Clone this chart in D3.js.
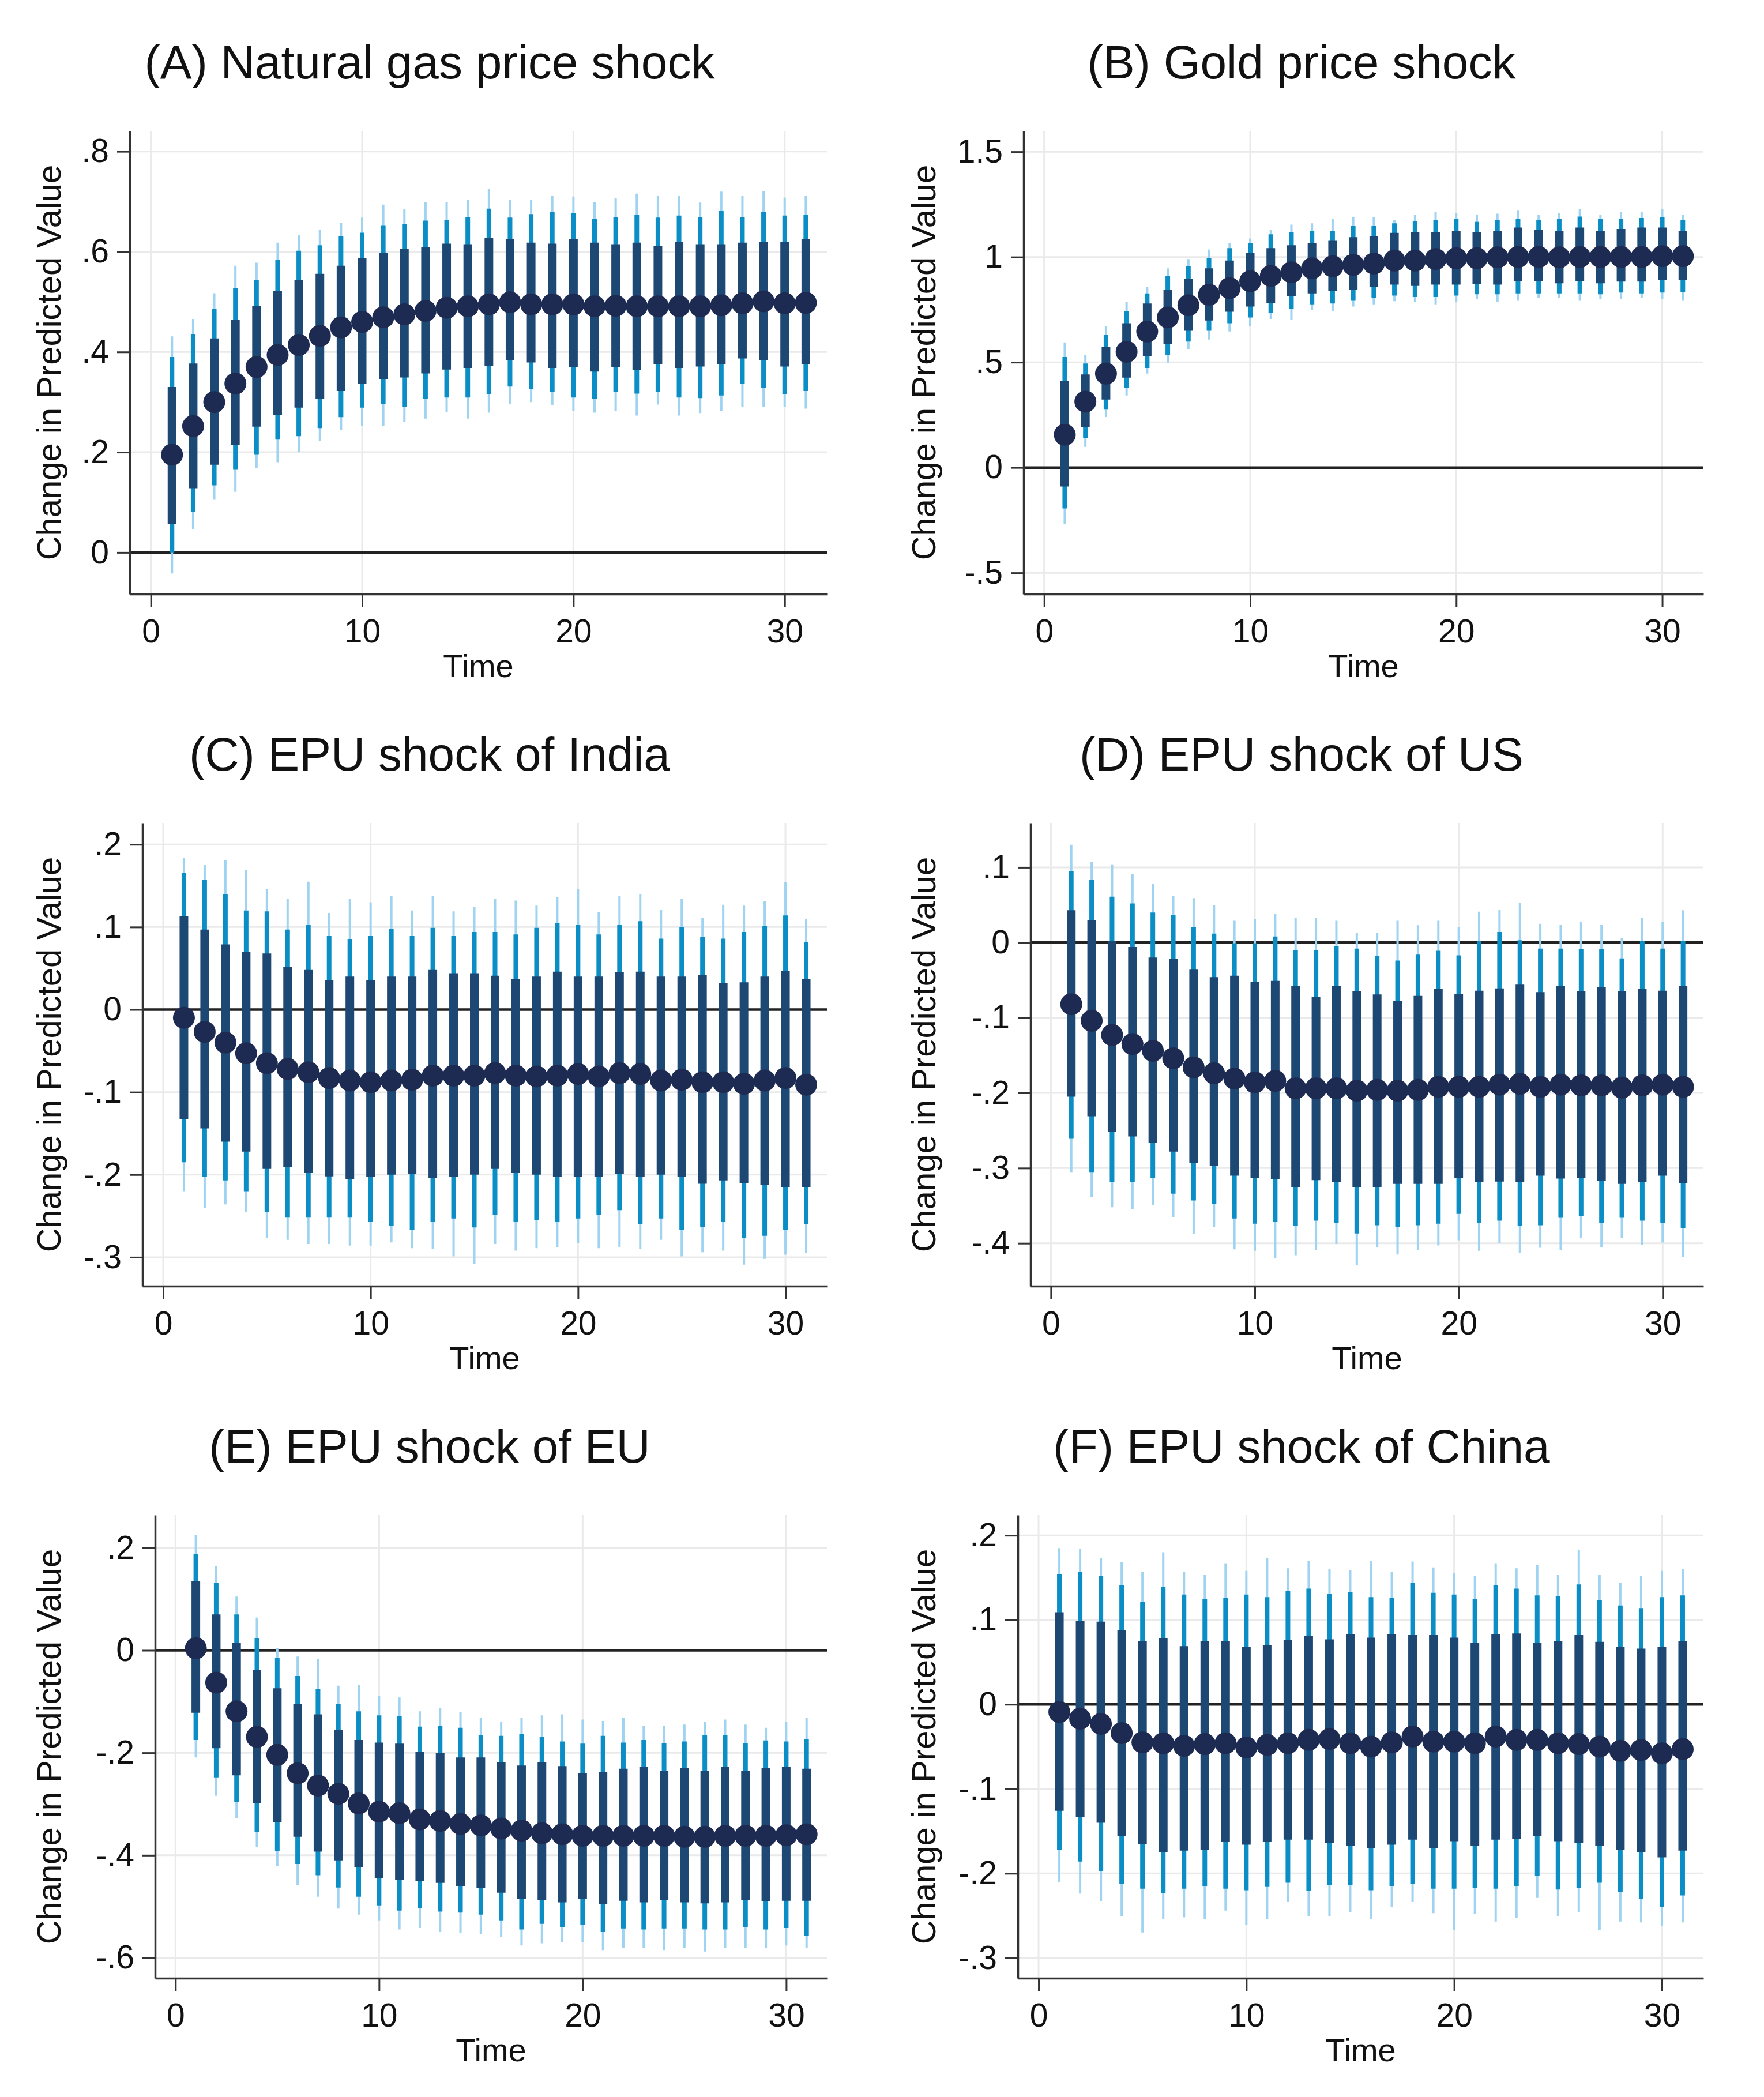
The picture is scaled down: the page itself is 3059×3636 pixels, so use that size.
<!DOCTYPE html>
<html>
<head>
<meta charset="utf-8">
<script src="https://cdn.jsdelivr.net/npm/d3@7"></script>
<style>
	body { margin:0; background:#fff; }
	text { font-family:"Liberation Sans", Arial, Helvetica, sans-serif; fill:#111; }
</style>
</head>
<body>
<svg id="chart" width="3059" height="3636"></svg>
<script>

// impulse periods
// ---------------
var periods = [1,2,3,4,5,6,7,8,9,10,11,12,13,14,15,16,17,18,19,20,21,22,23,24,25,26,27,28,29,30,31];
var xTicks = [0,10,20,30];

// (A) natural gas price shock
// ---------------------------
var gasEst = [.195,.252,.30,.337,.37,.394,.414,.432,.449,.46,.469,.475,.482,.488,.491,.495,.499,.495,.495,.495,.491,.492,.491,.491,.491,.491,.493,.497,.501,.497,.498];
var gasInner = [[.057,.33],[.127,.377],[.175,.427],[.215,.464],[.251,.492],[.274,.521],[.289,.543],[.307,.556],[.322,.572],[.337,.587],[.346,.598],[.349,.605],[.357,.609],[.365,.616],[.368,.615],[.372,.628],[.384,.625],[.379,.618],[.368,.616],[.37,.625],[.361,.618],[.37,.615],[.364,.618],[.375,.612],[.368,.62],[.371,.615],[.375,.615],[.387,.618],[.384,.62],[.371,.62],[.375,.625]];
var gasMiddle = [[0,.39],[.081,.436],[.134,.486],[.165,.528],[.195,.543],[.225,.584],[.232,.602],[.248,.613],[.27,.631],[.289,.638],[.296,.653],[.291,.655],[.307,.662],[.309,.663],[.309,.669],[.315,.686],[.331,.668],[.326,.675],[.32,.679],[.309,.677],[.307,.666],[.32,.669],[.317,.673],[.32,.668],[.309,.672],[.308,.669],[.313,.682],[.337,.669],[.329,.679],[.315,.672],[.322,.673]];
var gasOuter = [[-.042,.431],[.046,.466],[.105,.517],[.121,.572],[.168,.578],[.18,.618],[.2,.633],[.222,.644],[.245,.657],[.252,.668],[.252,.694],[.26,.685],[.267,.699],[.28,.699],[.267,.704],[.279,.726],[.296,.703],[.3,.704],[.294,.712],[.282,.71],[.279,.699],[.283,.707],[.273,.716],[.295,.712],[.273,.712],[.278,.698],[.283,.72],[.291,.711],[.291,.721],[.291,.708],[.287,.711]];

// (B) gold price shock
// --------------------
var goldEst = [.156,.313,.446,.55,.646,.713,.771,.821,.852,.885,.91,.927,.946,.956,.963,.969,.983,.983,.99,.994,.994,.998,1.0,1.0,.998,1.0,1.0,1.0,1.0,1.004,1.004];
var goldInner = [[-.09,.41],[.192,.442],[.323,.573],[.427,.685],[.529,.779],[.588,.844],[.65,.896],[.698,.946],[.74,.983],[.765,1.021],[.781,1.042],[.813,1.056],[.827,1.067],[.838,1.077],[.844,1.094],[.858,1.098],[.869,1.115],[.863,1.119],[.869,1.119],[.869,1.125],[.873,1.119],[.869,1.123],[.885,1.14],[.885,1.129],[.875,1.123],[.885,1.14],[.875,1.125],[.883,1.133],[.883,1.14],[.89,1.14],[.89,1.125]];
var goldMiddle = [[-.194,.525],[.14,.494],[.275,.629],[.379,.744],[.473,.827],[.535,.91],[.598,.956],[.65,.994],[.685,1.042],[.713,1.067],[.733,1.108],[.754,1.119],[.775,1.123],[.779,1.125],[.792,1.15],[.806,1.15],[.817,1.16],[.81,1.171],[.81,1.175],[.817,1.181],[.823,1.167],[.823,1.177],[.827,1.181],[.827,1.177],[.827,1.181],[.827,1.192],[.823,1.181],[.831,1.181],[.827,1.185],[.831,1.188],[.833,1.175]];
var goldOuter = [[-.267,.594],[.098,.535],[.24,.671],[.342,.785],[.446,.858],[.498,.946],[.563,.99],[.608,1.035],[.646,1.067],[.671,1.088],[.706,1.129],[.702,1.154],[.75,1.16],[.744,1.181],[.765,1.19],[.775,1.188],[.79,1.175],[.785,1.202],[.775,1.213],[.785,1.208],[.8,1.202],[.785,1.206],[.792,1.223],[.806,1.202],[.806,1.208],[.792,1.229],[.802,1.202],[.802,1.213],[.806,1.213],[.8,1.229],[.792,1.202]];

// (C) EPU shock of India
// ----------------------
var indiaEst = [-.01,-.027,-.04,-.053,-.065,-.072,-.076,-.083,-.086,-.088,-.086,-.085,-.08,-.08,-.08,-.077,-.08,-.081,-.08,-.078,-.081,-.077,-.078,-.086,-.085,-.088,-.088,-.09,-.086,-.083,-.091];
var indiaInner = [[-.133,.113],[-.144,.097],[-.16,.079],[-.172,.07],[-.193,.068],[-.191,.052],[-.198,.048],[-.202,.036],[-.205,.04],[-.203,.036],[-.2,.04],[-.199,.04],[-.204,.048],[-.203,.044],[-.2,.044],[-.193,.041],[-.198,.037],[-.2,.04],[-.203,.046],[-.203,.04],[-.203,.04],[-.199,.045],[-.203,.046],[-.2,.04],[-.203,.04],[-.211,.042],[-.207,.032],[-.21,.033],[-.212,.04],[-.215,.047],[-.215,.037]];
var indiaMiddle = [[-.185,.166],[-.203,.157],[-.207,.14],[-.22,.12],[-.245,.119],[-.252,.097],[-.252,.103],[-.252,.089],[-.252,.085],[-.257,.089],[-.262,.098],[-.267,.089],[-.257,.099],[-.253,.089],[-.264,.094],[-.249,.094],[-.257,.091],[-.255,.099],[-.257,.105],[-.253,.103],[-.249,.091],[-.243,.103],[-.26,.107],[-.253,.086],[-.267,.1],[-.263,.088],[-.257,.086],[-.277,.094],[-.274,.101],[-.267,.114],[-.26,.082]];
var indiaOuter = [[-.22,.184],[-.24,.175],[-.236,.181],[-.245,.169],[-.277,.146],[-.279,.134],[-.284,.155],[-.284,.117],[-.286,.134],[-.286,.13],[-.282,.138],[-.289,.12],[-.29,.138],[-.299,.119],[-.308,.124],[-.284,.134],[-.292,.132],[-.289,.126],[-.288,.136],[-.283,.146],[-.289,.118],[-.288,.138],[-.29,.14],[-.279,.121],[-.299,.134],[-.294,.111],[-.292,.127],[-.309,.126],[-.302,.131],[-.297,.154],[-.295,.11]];

// (D) EPU shock of US
// -------------------
var usEst = [-.082,-.104,-.123,-.135,-.144,-.154,-.166,-.174,-.181,-.186,-.184,-.194,-.194,-.194,-.197,-.196,-.197,-.196,-.192,-.192,-.192,-.189,-.188,-.192,-.189,-.19,-.19,-.193,-.19,-.189,-.192];
var usInner = [[-.205,.043],[-.231,.03],[-.252,.002],[-.258,-.006],[-.266,-.02],[-.278,-.022],[-.293,-.036],[-.297,-.046],[-.31,-.044],[-.313,-.052],[-.315,-.051],[-.325,-.058],[-.316,-.072],[-.319,-.058],[-.325,-.065],[-.325,-.069],[-.321,-.078],[-.321,-.071],[-.321,-.062],[-.313,-.068],[-.319,-.064],[-.318,-.061],[-.319,-.056],[-.31,-.066],[-.314,-.058],[-.313,-.065],[-.317,-.059],[-.321,-.065],[-.319,-.062],[-.31,-.064],[-.32,-.058]];
var usMiddle = [[-.261,.095],[-.306,.083],[-.319,.061],[-.319,.052],[-.313,.04],[-.334,.037],[-.343,.021],[-.348,.012],[-.367,-.001],[-.374,-.001],[-.371,.008],[-.377,-.01],[-.37,-.01],[-.373,-.005],[-.387,-.008],[-.376,-.018],[-.378,-.024],[-.376,-.016],[-.374,-.011],[-.361,-.017],[-.373,.002],[-.37,.014],[-.377,.003],[-.376,-.008],[-.366,-.008],[-.364,-.009],[-.373,-.009],[-.366,-.021],[-.37,.002],[-.373,-.008],[-.38,.002]];
var usOuter = [[-.306,.13],[-.338,.107],[-.352,.104],[-.355,.091],[-.349,.078],[-.365,.062],[-.388,.059],[-.378,.05],[-.408,.029],[-.41,.031],[-.42,.038],[-.416,.033],[-.409,.033],[-.401,.029],[-.429,.013],[-.405,.013],[-.415,.029],[-.409,.023],[-.403,.029],[-.396,.021],[-.41,.041],[-.4,.044],[-.413,.053],[-.406,.025],[-.409,.024],[-.393,.027],[-.405,.024],[-.393,.006],[-.402,.033],[-.399,.027],[-.418,.043]];

// (E) EPU shock of EU
// -------------------
var euEst = [.004,-.063,-.119,-.169,-.204,-.24,-.264,-.28,-.299,-.315,-.318,-.33,-.333,-.339,-.342,-.348,-.352,-.357,-.359,-.362,-.362,-.362,-.362,-.362,-.364,-.364,-.362,-.362,-.362,-.361,-.359];
var euInner = [[-.122,.135],[-.191,.07],[-.244,.015],[-.299,-.038],[-.335,-.074],[-.364,-.105],[-.393,-.125],[-.41,-.156],[-.423,-.175],[-.445,-.18],[-.448,-.182],[-.45,-.198],[-.454,-.2],[-.461,-.209],[-.464,-.209],[-.473,-.218],[-.485,-.225],[-.488,-.219],[-.492,-.226],[-.485,-.24],[-.496,-.237],[-.489,-.231],[-.492,-.227],[-.488,-.235],[-.492,-.229],[-.494,-.235],[-.492,-.227],[-.488,-.235],[-.49,-.229],[-.489,-.227],[-.489,-.231]];
var euMiddle = [[-.175,.188],[-.249,.132],[-.296,.07],[-.355,.023],[-.392,-.014],[-.417,-.05],[-.439,-.076],[-.463,-.104],[-.481,-.119],[-.498,-.127],[-.508,-.129],[-.503,-.149],[-.51,-.147],[-.512,-.151],[-.516,-.165],[-.527,-.167],[-.545,-.163],[-.534,-.169],[-.541,-.178],[-.536,-.182],[-.55,-.167],[-.543,-.18],[-.545,-.175],[-.543,-.181],[-.543,-.178],[-.545,-.166],[-.545,-.166],[-.541,-.181],[-.545,-.176],[-.542,-.178],[-.557,-.173]];
var euOuter = [[-.209,.225],[-.284,.165],[-.328,.105],[-.384,.064],[-.421,.005],[-.458,-.012],[-.481,-.017],[-.504,-.069],[-.516,-.067],[-.527,-.089],[-.545,-.092],[-.542,-.119],[-.55,-.112],[-.551,-.12],[-.554,-.132],[-.56,-.14],[-.576,-.132],[-.572,-.127],[-.569,-.125],[-.57,-.135],[-.585,-.138],[-.581,-.132],[-.581,-.147],[-.585,-.147],[-.581,-.145],[-.588,-.14],[-.581,-.135],[-.581,-.145],[-.581,-.151],[-.576,-.14],[-.581,-.132]];

// (F) EPU shock of China
// ----------------------
var chinaEst = [-.009,-.017,-.023,-.034,-.045,-.046,-.049,-.047,-.046,-.051,-.048,-.046,-.042,-.041,-.046,-.05,-.045,-.038,-.044,-.044,-.046,-.038,-.042,-.042,-.046,-.047,-.05,-.055,-.054,-.058,-.053];
var chinaInner = [[-.126,.109],[-.133,.099],[-.14,.098],[-.156,.088],[-.165,.075],[-.175,.078],[-.173,.069],[-.172,.075],[-.163,.075],[-.166,.068],[-.163,.07],[-.16,.076],[-.16,.081],[-.164,.077],[-.167,.083],[-.17,.079],[-.166,.083],[-.16,.082],[-.17,.082],[-.162,.079],[-.167,.073],[-.16,.083],[-.159,.084],[-.156,.073],[-.162,.075],[-.164,.082],[-.167,.074],[-.172,.068],[-.175,.066],[-.181,.068],[-.173,.075]];
var chinaMiddle = [[-.172,.154],[-.186,.157],[-.197,.152],[-.212,.141],[-.218,.121],[-.223,.139],[-.218,.13],[-.215,.125],[-.218,.126],[-.22,.13],[-.216,.127],[-.211,.134],[-.221,.137],[-.214,.131],[-.214,.133],[-.22,.127],[-.215,.126],[-.212,.144],[-.218,.132],[-.218,.13],[-.217,.125],[-.218,.141],[-.215,.137],[-.203,.129],[-.219,.128],[-.217,.142],[-.211,.123],[-.222,.117],[-.23,.114],[-.24,.127],[-.226,.129]];
var chinaOuter = [[-.21,.185],[-.224,.184],[-.233,.173],[-.251,.168],[-.27,.157],[-.254,.18],[-.252,.157],[-.254,.153],[-.244,.167],[-.261,.158],[-.254,.173],[-.234,.161],[-.251,.17],[-.251,.16],[-.246,.159],[-.254,.17],[-.24,.157],[-.234,.169],[-.247,.162],[-.267,.155],[-.248,.152],[-.257,.167],[-.253,.161],[-.229,.165],[-.251,.153],[-.246,.183],[-.267,.153],[-.257,.144],[-.258,.152],[-.262,.158],[-.258,.16]];

// panel table (layout + series)
// -----------------------------
var panels = [
	{title:"(A) Natural gas price shock", row:0, col:0, axisX:225,  yDomain:[-0.083,0.841], yTicks:[0,.2,.4,.6,.8],        est:gasEst,   inner:gasInner,   middle:gasMiddle,   outer:gasOuter},
	{title:"(B) Gold price shock",        row:0, col:1, axisX:1775, yDomain:[-0.601,1.599], yTicks:[-.5,0,.5,1,1.5],      est:goldEst,  inner:goldInner,  middle:goldMiddle,  outer:goldOuter},
	{title:"(C) EPU shock of India",      row:1, col:0, axisX:247,  yDomain:[-0.335,0.226], yTicks:[-.3,-.2,-.1,0,.1,.2], est:indiaEst, inner:indiaInner, middle:indiaMiddle, outer:indiaOuter},
	{title:"(D) EPU shock of US",         row:1, col:1, axisX:1787, yDomain:[-0.457,0.159], yTicks:[-.4,-.3,-.2,-.1,0,.1],est:usEst,    inner:usInner,    middle:usMiddle,    outer:usOuter},
	{title:"(E) EPU shock of EU",         row:2, col:0, axisX:269,  yDomain:[-0.64,0.264],  yTicks:[-.6,-.4,-.2,0,.2],    est:euEst,    inner:euInner,    middle:euMiddle,    outer:euOuter},
	{title:"(F) EPU shock of China",      row:2, col:1, axisX:1765, yDomain:[-0.324,0.224], yTicks:[-.3,-.2,-.1,0,.1,.2], est:chinaEst, inner:chinaInner, middle:chinaMiddle, outer:chinaOuter}
];

var colRight = [1434, 2954];
var colTitleX = [745, 2257];
var colLabelX = [105, 1622];
var rowH = 1200, plotTop = 227, plotBottom = 1030;

// stata style numbers: .5 / -.5
var fmt = function(v){
	return String(+v.toFixed(2)).replace(/^(-?)0\./,"$1.");
};

var svg = d3.select("#chart");

panels.forEach(function(p){

	var top = p.row*rowH;
	var right = colRight[p.col];
	var x = d3.scaleLinear().domain([-1,32]).range([p.axisX, right]);
	var y = d3.scaleLinear().domain(p.yDomain).range([top+plotBottom, top+plotTop]);
	var g = svg.append("g");

	// title
	g.append("text")
		.attr("x", colTitleX[p.col])
		.attr("y", top+136)
		.attr("text-anchor","middle")
		.style("font-size","82px")
		.text(p.title);

	// grid
	g.selectAll(".gy").data(p.yTicks).enter().append("line")
		.attr("x1", p.axisX).attr("x2", right)
		.attr("y1", function(d){ return y(d); }).attr("y2", function(d){ return y(d); })
		.attr("stroke","#eaeaea").attr("stroke-width",3);
	g.selectAll(".gx").data(xTicks).enter().append("line")
		.attr("x1", function(d){ return x(d); }).attr("x2", function(d){ return x(d); })
		.attr("y1", top+plotTop).attr("y2", top+plotBottom)
		.attr("stroke","#eaeaea").attr("stroke-width",3);

	// zero line
	g.append("line")
		.attr("x1", p.axisX).attr("x2", right)
		.attr("y1", y(0)).attr("y2", y(0))
		.attr("stroke","#222").attr("stroke-width",4.5);

	// axes
	var ax = g.append("g").attr("transform","translate("+p.axisX+",0)")
		.call(d3.axisLeft(y).tickValues(p.yTicks).tickSize(22).tickSizeOuter(0).tickPadding(14).tickFormat(fmt));
	var bx = g.append("g").attr("transform","translate(0,"+(top+plotBottom)+")")
		.call(d3.axisBottom(x).tickValues(xTicks).tickSize(22).tickSizeOuter(0).tickPadding(22).tickFormat(fmt));
	[ax,bx].forEach(function(a){
		a.select(".domain").attr("stroke","#333").attr("stroke-width",3.5);
		a.selectAll(".tick line").attr("stroke","#333").attr("stroke-width",3);
		a.selectAll(".tick text").style("font-size","57px").attr("fill","#111")
			.style("font-family","'Liberation Sans', Arial, Helvetica, sans-serif");
	});

	// axis titles
	g.append("text")
		.attr("x", (p.axisX+right)/2)
		.attr("y", top+1174)
		.attr("text-anchor","middle")
		.style("font-size","56px")
		.text("Time");
	g.append("text")
		.attr("transform","translate("+colLabelX[p.col]+","+(top+(plotTop+plotBottom)/2)+") rotate(-90)")
		.attr("text-anchor","middle")
		.style("font-size","58px")
		.text("Change in Predicted Value");

	// confidence bands, widest first
	var layers = [
		{data:p.outer,  w:4,  c:"#9fd3f2"},
		{data:p.middle, w:8,  c:"#0b8ec6"},
		{data:p.inner,  w:15, c:"#1e4874"}
	];
	layers.forEach(function(l){
		g.selectAll(null).data(l.data).enter().append("line")
			.attr("x1", function(d,i){ return x(periods[i]); })
			.attr("x2", function(d,i){ return x(periods[i]); })
			.attr("y1", function(d){ return y(d[0]); })
			.attr("y2", function(d){ return y(d[1]); })
			.attr("stroke", l.c).attr("stroke-width", l.w);
	});

	// point estimates
	g.selectAll(null).data(p.est).enter().append("circle")
		.attr("cx", function(d,i){ return x(periods[i]); })
		.attr("cy", function(d){ return y(d); })
		.attr("r", 19)
		.attr("fill","#1d2b53");
});

</script>
</body>
</html>
